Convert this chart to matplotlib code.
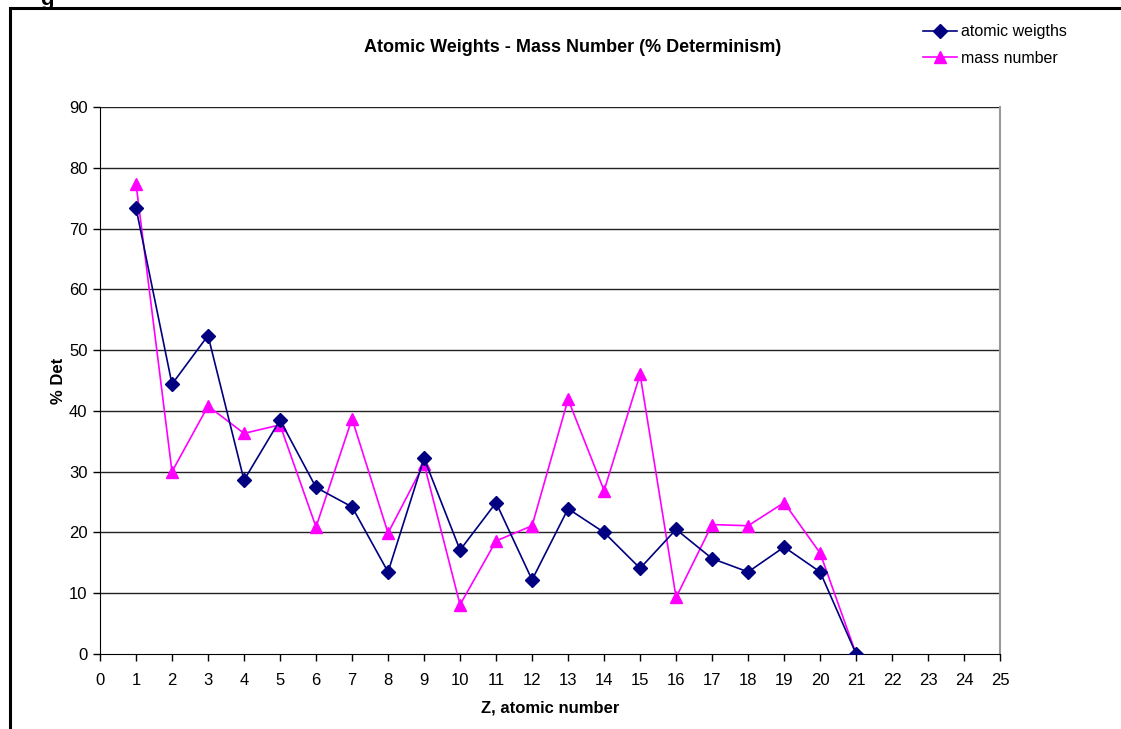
import matplotlib
matplotlib.use("Agg")
import matplotlib.pyplot as plt
from matplotlib.patches import Rectangle

plt.rcParams['font.family'] = ['Liberation Sans', 'DejaVu Sans']

# data
z = list(range(1, 22))
atomic_weights = [73.4, 44.4, 52.4, 28.6, 38.5, 27.4, 24.2, 13.5, 32.2, 17.1,
                  24.9, 12.2, 23.9, 20.0, 14.1, 20.5, 15.7, 13.5, 17.6, 13.5, 0.0]
mass_number = [77.4, 30.0, 40.8, 36.3, 37.7, 20.9, 38.7, 19.9, 31.3, 8.1,
               18.6, 21.1, 41.9, 26.9, 46.0, 9.3, 21.3, 21.1, 24.9, 16.6, 0.0]
x_ticks = list(range(0, 26))
y_ticks = list(range(0, 91, 10))

fig = plt.figure(figsize=(11.21, 7.29), dpi=100)
ax = fig.add_axes([0.0892, 0.1029, 0.803, 0.7503])

# outer frame of the embedded chart
fig.patches.append(Rectangle((10 / 1121, -0.1), 1.2, 0.1 + (729 - 8) / 729,
                             transform=fig.transFigure, fill=False,
                             edgecolor='black', linewidth=2.2))
fig.text(40 / 1121, 1.0, 'g', fontsize=16, fontweight='bold', va='center')

for yv in y_ticks[1:]:
    ax.axhline(yv, color='#222222', linewidth=1.0, zorder=1)

ax.plot(z, atomic_weights, color='#000080', marker='D', markersize=7,
        linewidth=1.2, label='atomic weigths', zorder=3)
ax.plot(z, mass_number, color='#FF00FF', marker='^', markersize=9,
        linewidth=1.2, label='mass number', zorder=2)

ax.set_xlim(0, 25)
ax.set_ylim(0, 90)
ax.set_xticks(x_ticks)
ax.set_yticks(y_ticks)
ax.tick_params(direction='out', length=5, width=1, labelsize=12)
ax.tick_params(axis='x', pad=9)
ax.tick_params(axis='y', pad=4)

ax.spines['top'].set_visible(False)
ax.spines['right'].set_color('#999999')
ax.spines['right'].set_linewidth(1.5)
ax.spines['left'].set_color('black')
ax.spines['bottom'].set_color('black')

ax.set_xlabel('Z, atomic number', fontsize=12, fontweight='bold', labelpad=9)
ax.set_ylabel('% Det', fontsize=12, fontweight='bold', labelpad=2)

fig.text(573 / 1121, 1 - 48 / 729, 'Atomic Weights - Mass Number (% Determinism)',
         fontsize=13, fontweight='bold', ha='center', va='center')

fig.legend(loc='upper left', bbox_to_anchor=(917 / 1121, 1 - 18 / 729),
           frameon=False, fontsize=11.5, handlelength=2.1, handletextpad=0.25,
           labelspacing=0.7, borderaxespad=0)

fig.savefig('out.png', dpi=100)
